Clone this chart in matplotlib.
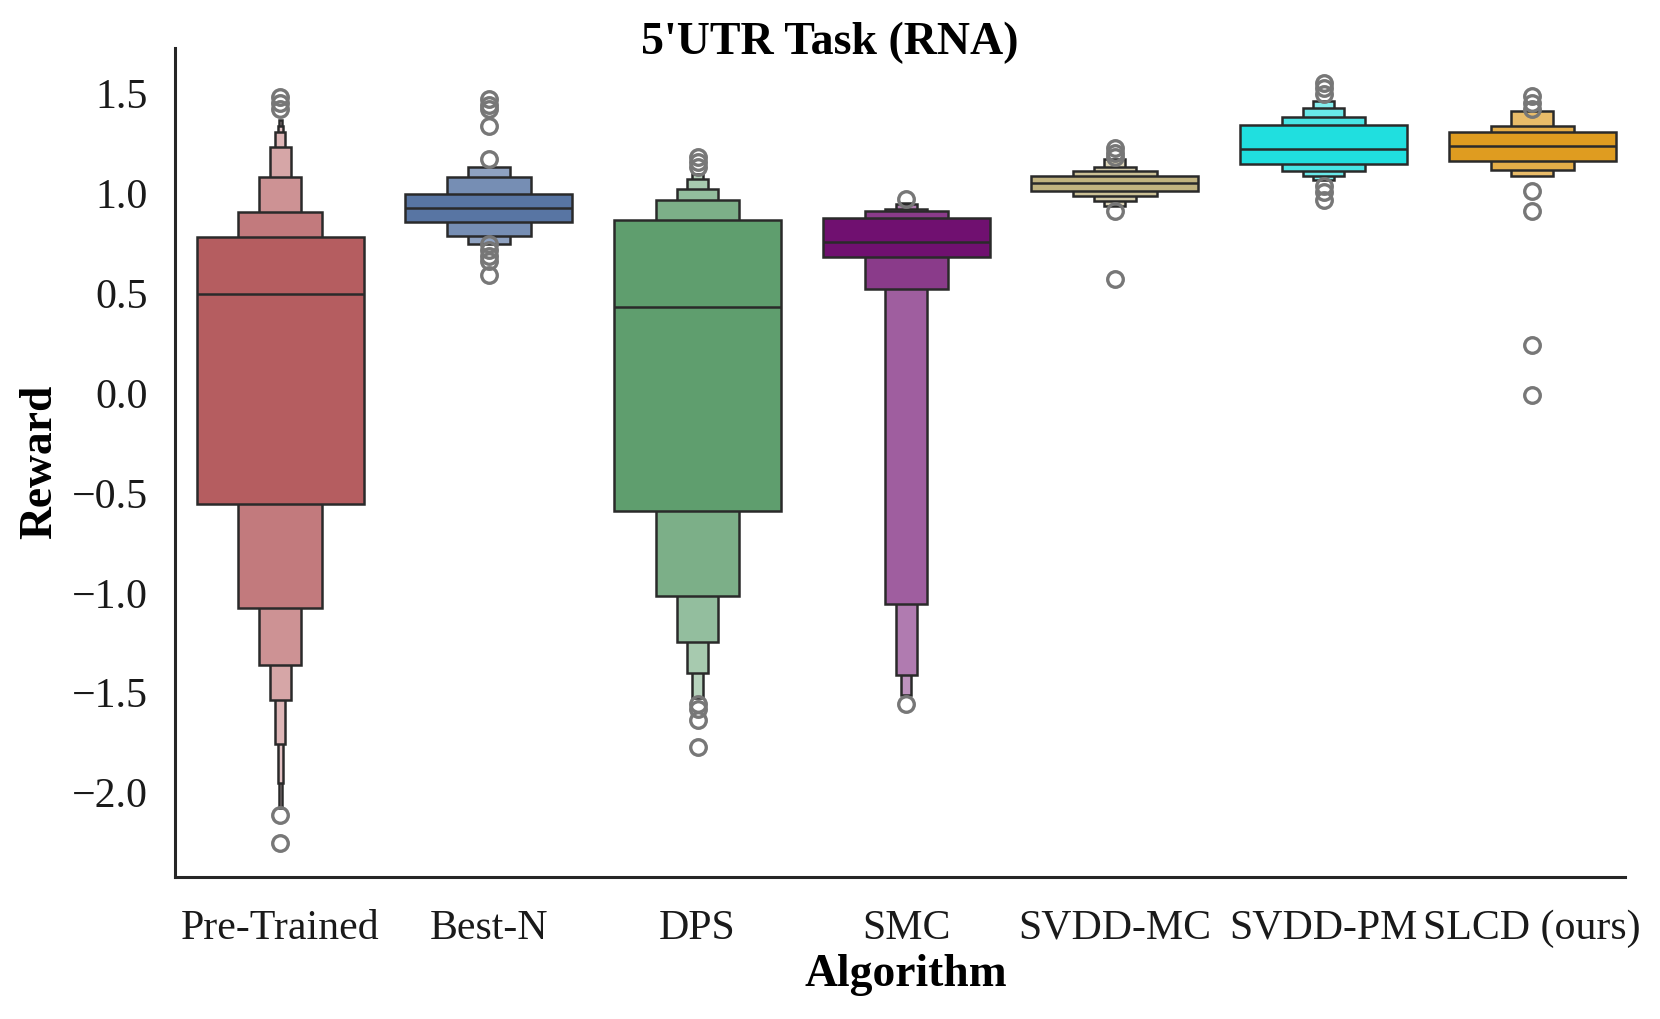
import numpy as np
import matplotlib.pyplot as plt
from matplotlib.colors import to_rgb

plt.rcParams['font.family'] = ['Liberation Serif', 'DejaVu Serif']

# ---------- data ----------

algorithms = ["Pre-Trained", "Best-N", "DPS", "SMC", "SVDD-MC", "SVDD-PM", "SLCD (ours)"]
base_colors = ["#B55D60", "#5875A3", "#5F9E6E", "#701070", "#C1B37F", "#20DFDF", "#DF9C20"]

medians = [0.493, 0.923, 0.431, 0.753, 1.048, 1.220, 1.235]

# letter values per algorithm, innermost box (IQR) first
upper_lv = [
    [0.781, 0.906, 1.078, 1.231, 1.306, 1.336, 1.365],
    [0.996, 1.078, 1.131],
    [0.863, 0.964, 1.021, 1.068, 1.095],
    [0.873, 0.908, 0.922, 0.946, 0.951],
    [1.086, 1.110, 1.131, 1.168],
    [1.340, 1.378, 1.423, 1.460],
    [1.306, 1.336, 1.410],
]
lower_lv = [
    [-0.558, -1.075, -1.362, -1.537, -1.758, -1.950, -2.079],
    [0.853, 0.786, 0.743],
    [-0.590, -1.015, -1.248, -1.403, -1.528],
    [0.679, 0.521, -1.054, -1.410, -1.510],
    [1.010, 0.985, 0.960, 0.936],
    [1.145, 1.111, 1.086, 1.065],
    [1.160, 1.115, 1.085],
]
outliers = [
    [1.478, 1.451, 1.420, -2.113, -2.251],
    [1.472, 1.441, 1.420, 1.335, 1.171, 0.747, 0.715, 0.684, 0.657, 0.588],
    [1.181, 1.155, 1.128, -1.557, -1.583, -1.636, -1.774],
    [0.972, -1.555],
    [1.223, 1.198, 1.181, 0.911, 0.568],
    [1.552, 1.525, 1.494, 1.033, 1.006, 0.964],
    [1.483, 1.451, 1.420, 1.012, 0.911, 0.239, -0.010],
]


# ---------- helpers ----------

def lighten(color, t):
    rgb = np.array(to_rgb(color))
    return tuple(rgb + (1.0 - rgb) * t)


# ---------- plotting ----------

fig = plt.figure(figsize=(8.3, 5.095), dpi=200)
ax = fig.add_axes([0.1052, 0.1397, 0.8738, 0.8136])

edge = "#2a2a2a"
max_width = 0.8

for i, name in enumerate(algorithms):
    ups, lows = upper_lv[i], lower_lv[i]
    k = len(ups)
    # narrowest (outermost) first so the wider boxes sit on top
    for lvl in range(k - 1, -1, -1):
        w = max_width * 0.5 ** lvl
        ax.bar(i, ups[lvl] - lows[lvl], bottom=lows[lvl], width=w,
               color=lighten(base_colors[i], 1 - 0.82 ** lvl),
               edgecolor=edge, linewidth=0.9, zorder=2)
    ax.hlines(medians[i], i - max_width / 2, i + max_width / 2,
              color=edge, linewidth=0.9, zorder=3)
    ax.plot([i] * len(outliers[i]), outliers[i], linestyle="none", marker="o",
            markersize=5.6, markerfacecolor="none", markeredgecolor="#777777",
            markeredgewidth=1.2, zorder=4)

ax.set_xlim(-0.506, 6.445)
ax.set_ylim(-2.42, 1.727)
ax.set_xticks(range(len(algorithms)))
ax.set_xticklabels(algorithms)
ax.set_yticks([-2.0, -1.5, -1.0, -0.5, 0.0, 0.5, 1.0, 1.5])

ax.tick_params(axis="x", length=0, pad=11.7, labelsize=15.1, colors="#1a1a1a")
ax.tick_params(axis="y", length=0, pad=9.6, labelsize=15.1, colors="#1a1a1a")

for side in ("top", "right"):
    ax.spines[side].set_visible(False)
for side in ("left", "bottom"):
    ax.spines[side].set_color("#262626")
    ax.spines[side].set_linewidth(1.1)

ax.set_xlabel("Algorithm", fontsize=16.4, fontweight="bold", va="center")
ax.set_ylabel("Reward", fontsize=16.4, fontweight="bold", va="center")
ax.xaxis.set_label_coords(0.5044, -0.119)
ax.yaxis.set_label_coords(-0.0927, 0.5)

fig.suptitle("5'UTR Task (RNA)", x=0.5, y=0.979, va="top",
             fontsize=16.5, fontweight="bold")

fig.savefig("out.png", dpi=200)
